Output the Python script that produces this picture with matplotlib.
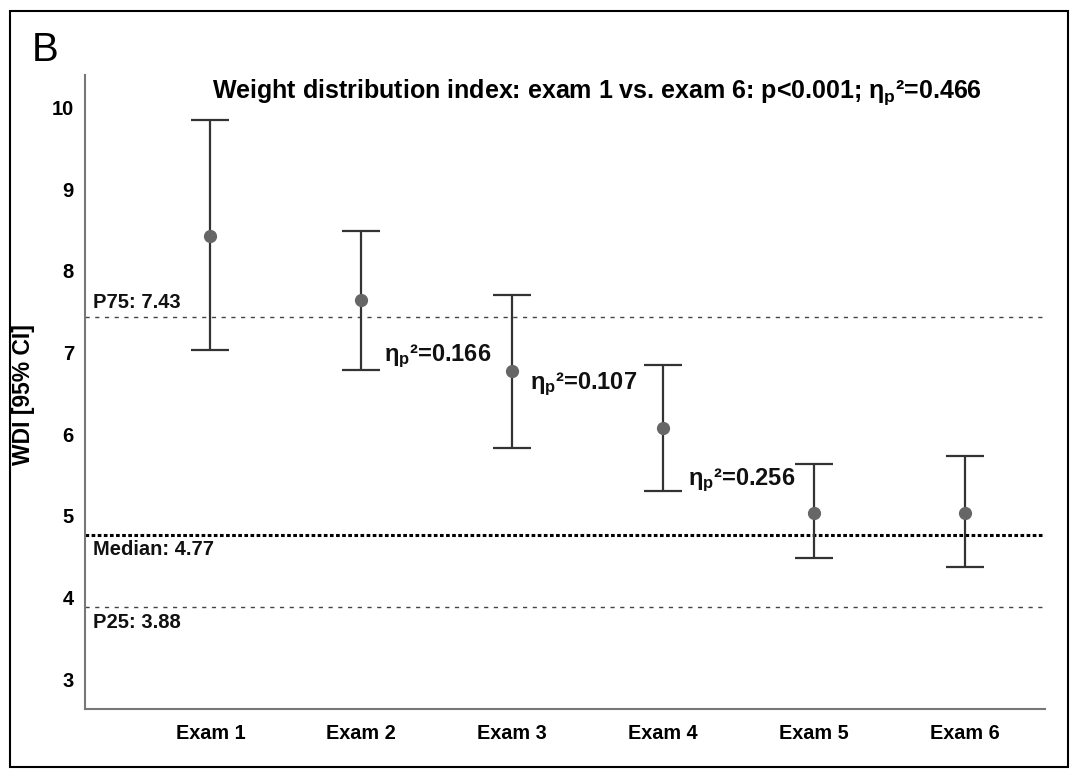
import matplotlib
matplotlib.use("Agg")
import matplotlib.pyplot as plt
from matplotlib.patches import Rectangle

plt.rcParams['font.family'] = ['Liberation Sans', 'DejaVu Sans']
plt.rcParams['mathtext.fontset'] = 'custom'
plt.rcParams['mathtext.rm'] = 'Liberation Sans:bold'
plt.rcParams['mathtext.bf'] = 'Liberation Sans:bold'
plt.rcParams['mathtext.it'] = 'Liberation Sans:bold'

# data
exams = ['Exam 1', 'Exam 2', 'Exam 3', 'Exam 4', 'Exam 5', 'Exam 6']
means = [8.43, 7.64, 6.77, 6.08, 5.04, 5.04]
ci_low = [7.03, 6.78, 5.83, 5.31, 4.48, 4.38]
ci_high = [9.84, 8.49, 7.70, 6.85, 5.63, 5.73]

p75 = 7.43
median = 4.77
p25 = 3.88

# effect sizes between consecutive exams (labels sit next to exam 2, 3, 4)
eta_after = [2, 3, 4]
eta_values = [0.166, 0.107, 0.256]
eta_total = 0.466

fig = plt.figure(figsize=(10.77, 7.78), dpi=100)
ax = fig.add_axes([0.079, 0.089, 0.891, 0.815])

x = list(range(1, len(exams) + 1))
yerr = [[m - lo for m, lo in zip(means, ci_low)],
        [hi - m for m, hi in zip(means, ci_high)]]
ax.errorbar(x, means, yerr=yerr, fmt='o', color='#666666', ecolor='#333333',
            elinewidth=1.6, capsize=14, capthick=1.6, markersize=8.5, zorder=3)

# reference lines
ax.axhline(p75, color='#444444', lw=1.0, ls=(0, (3, 4)), zorder=1)
ax.axhline(p25, color='#444444', lw=1.0, ls=(0, (3, 4)), zorder=1)
ax.axhline(median, color='black', lw=2.2, ls=(0, (1.2, 0.8)), zorder=1)

ref_kw = dict(fontsize=14.5, fontweight='bold', ha='left', color='#111111')
ax.text(0.22, p75 + 0.07, f'P75: {p75:.2f}', va='bottom', **ref_kw)
ax.text(0.22, median - 0.07, f'Median: {median:.2f}', va='top', **ref_kw)
ax.text(0.22, p25 - 0.07, f'P25: {p25:.2f}', va='top', **ref_kw)

# label placement (x offset from the exam, y in data units)
eta_dx = [0.15, 0.12, 0.165]
eta_y = [6.95, 6.61, 5.43]
for i, val, dx, ty in zip(eta_after, eta_values, eta_dx, eta_y):
    ax.text(i + dx, ty, r'η$_{\mathbf{p}}$²=' + f'{val:.3f}',
            fontsize=17, fontweight='bold', va='center', ha='left', color='#111111')

ax.text(0.533, 0.972,
        r'Weight distribution index: exam 1 vs. exam 6: p<0.001; η$_{\mathbf{p}}$²=' + f'{eta_total:.3f}',
        transform=ax.transAxes, fontsize=18, fontweight='bold', ha='center', va='center')

ax.set_xlim(0.17, 6.53)
ax.set_ylim(2.64, 10.4)
ax.set_xticks(x)
ax.set_xticklabels(exams, fontsize=14.3, fontweight='bold')
ax.set_yticks(range(3, 11))
ax.set_yticklabels([str(v) for v in range(3, 11)], fontsize=14.5, fontweight='bold')
ax.tick_params(axis='both', length=0)
ax.tick_params(axis='x', pad=11)
ax.tick_params(axis='y', pad=8)
ax.set_ylabel('WDI [95% CI]', fontsize=16.5, fontweight='bold')
ax.yaxis.set_label_coords(-0.052, 0.495)

for s in ['top', 'right']:
    ax.spines[s].set_visible(False)
for s in ['left', 'bottom']:
    ax.spines[s].set_color('#777777')
    ax.spines[s].set_linewidth(1.5)

fig.text(0.0297, 0.936, 'B', fontsize=29, ha='left', va='center')
fig.patches.append(Rectangle((0.009, 0.014), 0.983, 0.972, transform=fig.transFigure,
                             fill=False, edgecolor='black', lw=1.5))

fig.savefig('out.png', dpi=100)
